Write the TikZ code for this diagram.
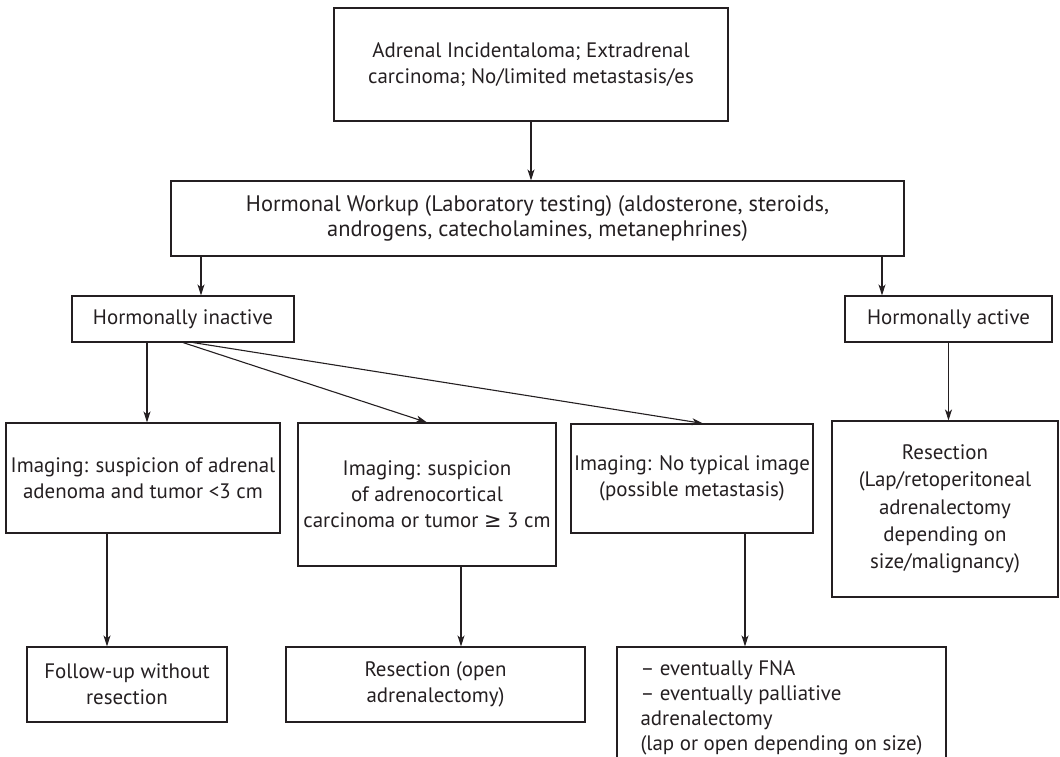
\documentclass[tikz,border=0pt]{standalone}
\usepackage{fontspec}
\setmainfont{PT Sans}
\newfontfamily\symfont{DejaVu Sans}
\usetikzlibrary{arrows.meta}
\definecolor{ink}{rgb}{0.14,0.12,0.13}

\begin{document}
\begin{tikzpicture}[x=1bp,y=-1bp,
	box/.style={draw=ink, line width=1.1bp, text=ink, align=center, inner sep=0pt,
		font=\fontsize{21}{26}\selectfont},
	arr/.style={draw=ink, line width=1.1bp, -{Stealth[length=11bp,width=7bp,inset=3bp]}}]
	\useasboundingbox (0,0) rectangle (1060,757);

	% first levels
	\node[box, minimum width=394bp, minimum height=113bp] (incid) at (531,64.5)
		{Adrenal Incidentaloma; Extradrenal\\carcinoma; No/limited metastasis/es};
	\node[box, minimum width=733bp, minimum height=75bp, font=\fontsize{22.5}{25}\selectfont] (workup) at (537.5,218.5)
		{Hormonal Workup (Laboratory testing) (aldosterone, steroids,\\androgens, catecholamines, metanephrines)};
	\node[box, minimum width=222bp, minimum height=46bp] (inactive) at (183,319) {Hormonally inactive};
	\node[box, minimum width=207bp, minimum height=46bp] (active) at (948.5,319) {Hormonally active};

	% imaging
	\node[box, minimum width=274bp, minimum height=110bp] (imgadeno) at (143,478)
		{Imaging: suspicion of adrenal\\adenoma and tumor <3 cm};
	\node[box, minimum width=258bp, minimum height=143bp] (imgcarc) at (427,494.5)
		{Imaging: suspicion\\of adrenocortical\\carcinoma or tumor {\symfont ≥} 3 cm};
	\node[box, minimum width=242bp, minimum height=109bp] (imgmeta) at (692,478.5)
		{Imaging: No typical image\\(possible metastasis)};
	\node[box, minimum width=226bp, minimum height=176bp, font=\fontsize{21}{27.5}\selectfont] (resact) at (945,509)
		{Resection\\(Lap/retoperitoneal\\adrenalectomy\\depending on\\size/malignancy)};

	% outcomes
	\node[box, minimum width=200bp, minimum height=75bp] (followup) at (127,684.5)
		{Follow-up without\\resection};
	\node[box, minimum width=299bp, minimum height=75bp] (resopen) at (435.5,684.5)
		{Resection (open\\adrenalectomy)};
	\node[box, align=left, minimum width=329bp, minimum height=122bp, font=\fontsize{21}{25}\selectfont] (palli) at (781.5,708)
		{-- eventually FNA\\-- eventually palliative\\adrenalectomy\\(lap or open depending on size)};

	% connectors
	\draw[arr] (incid.south) -- (incid.south |- workup.north);
	\draw[arr] ([xshift=18bp]inactive.north |- workup.south) -- ([xshift=18bp]inactive.north);
	\draw[arr] ([xshift=-66.5bp]active.north |- workup.south) -- ([xshift=-66.5bp]active.north);
	\draw[arr] ([xshift=-36bp]inactive.south) -- ([xshift=-36bp]inactive.south |- imgadeno.north);
	\draw[arr] (inactive.south) -- (imgcarc.north);
	\draw[arr] ([xshift=10bp]inactive.south) -- ([xshift=11bp]imgmeta.north);
	\draw[arr] (active.south) -- (active.south |- resact.north);
	\draw[arr] ([xshift=-36bp]imgadeno.south) -- ([xshift=-36bp]imgadeno.south |- followup.north);
	\draw[arr] ([xshift=34bp]imgcarc.south) -- ([xshift=34bp]imgcarc.south |- resopen.north);
	\draw[arr] ([xshift=53bp]imgmeta.south) -- ([xshift=53bp]imgmeta.south |- palli.north);

\end{tikzpicture}
\end{document}
